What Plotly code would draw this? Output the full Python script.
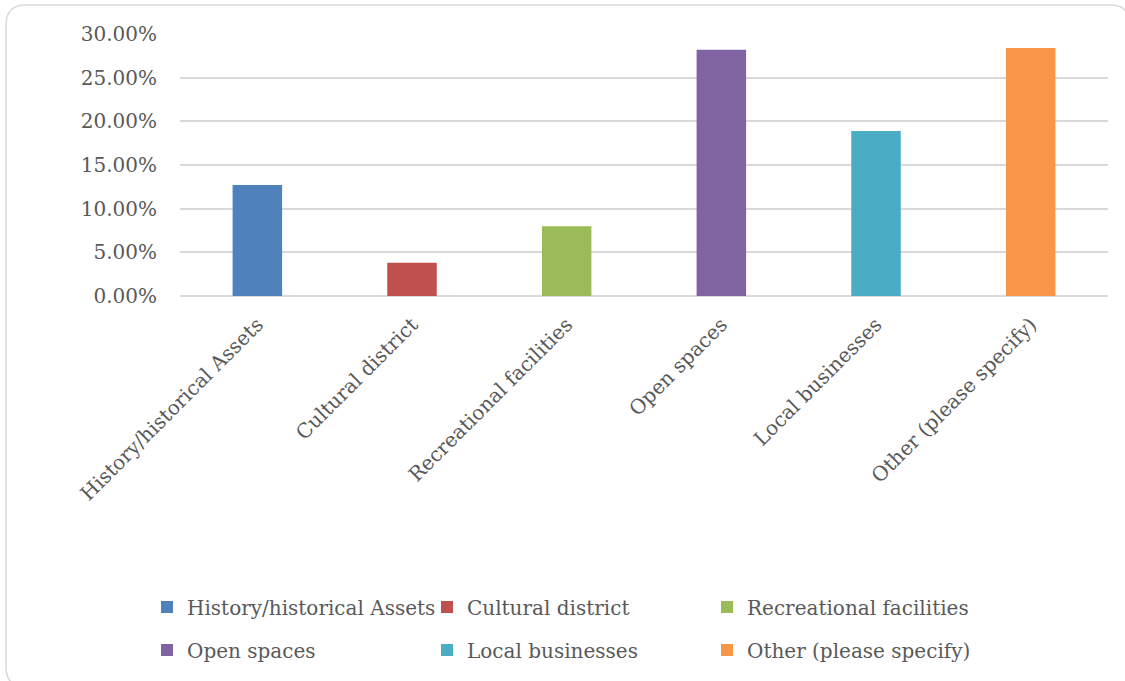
"""Bar chart of survey answers with an Excel-style frame."""

import plotly.graph_objects as go

categories = [
    "History/historical Assets",
    "Cultural district",
    "Recreational facilities",
    "Open spaces",
    "Local businesses",
    "Other (please specify)",
]
shares = [0.127, 0.038, 0.080, 0.282, 0.189, 0.284]
colors = ["#4F81BD", "#C0504D", "#9BBB59", "#8064A2", "#4BACC6", "#F79646"]
y_ticks = [0, 0.05, 0.10, 0.15, 0.20, 0.25, 0.30]

FONT = "DejaVu Serif"
TEXT = "#595959"
GRID = "#D9D9D9"

# plot area in pixels
L, T, W, H = 180, 34, 928, 262


def px_x(p):
    return (p - L) / W


def px_y(p):
    return (T + H - p) / H


fig = go.Figure()

for i, (cat, val, col) in enumerate(zip(categories, shares, colors)):
    fig.add_trace(
        go.Bar(
            x=[cat],
            y=[val],
            name=cat,
            marker_color=col,
            marker_line_width=0,
            legend="legend" if i < 3 else "legend2",
        )
    )

# rounded chart frame
x0, x1 = px_x(6), px_x(1130)
y0, y1 = px_y(5), px_y(687)
rx, ry = 20 / W, 20 / H
path = (
    f"M{x0 + rx},{y0} L{x1 - rx},{y0} Q{x1},{y0} {x1},{y0 - ry} "
    f"L{x1},{y1 + ry} Q{x1},{y1} {x1 - rx},{y1} "
    f"L{x0 + rx},{y1} Q{x0},{y1} {x0},{y1 + ry} "
    f"L{x0},{y0 - ry} Q{x0},{y0} {x0 + rx},{y0} Z"
)
fig.add_shape(
    type="path",
    path=path,
    xref="paper",
    yref="paper",
    line=dict(color=GRID, width=1.5),
    layer="below",
)

legend_common = dict(
    orientation="h",
    xanchor="left",
    yanchor="middle",
    entrywidth=235,
    entrywidthmode="pixels",
    font=dict(family=FONT, size=20, color=TEXT),
    bgcolor="rgba(0,0,0,0)",
)

fig.update_layout(
    width=1125,
    height=681,
    margin=dict(l=L, r=1125 - L - W, t=T, b=681 - T - H),
    paper_bgcolor="white",
    plot_bgcolor="white",
    barmode="relative",
    bargap=0.68,
    font=dict(family=FONT, size=20, color=TEXT),
    showlegend=True,
    legend=dict(x=px_x(147), y=px_y(607), **legend_common),
    legend2=dict(x=px_x(147), y=px_y(650), **legend_common),
    xaxis=dict(
        tickangle=-45,
        showgrid=False,
        showline=False,
        ticks="",
        ticklabelstandoff=12,
        tickfont=dict(family=FONT, size=20, color=TEXT),
    ),
    yaxis=dict(
        range=[0, 0.30],
        tickvals=y_ticks,
        tickformat=".2%",
        showgrid=True,
        gridcolor=GRID,
        gridwidth=1.5,
        zeroline=True,
        zerolinecolor=GRID,
        zerolinewidth=1.5,
        showline=False,
        ticks="",
        ticklabelstandoff=22,
        tickfont=dict(family=FONT, size=20, color=TEXT),
    ),
)

# drop the browser's default body margin so the figure sits at (0, 0)
fig.write_html(
    "out.html",
    config={"displayModeBar": False},
    post_script="document.body.style.margin = '0';",
)
